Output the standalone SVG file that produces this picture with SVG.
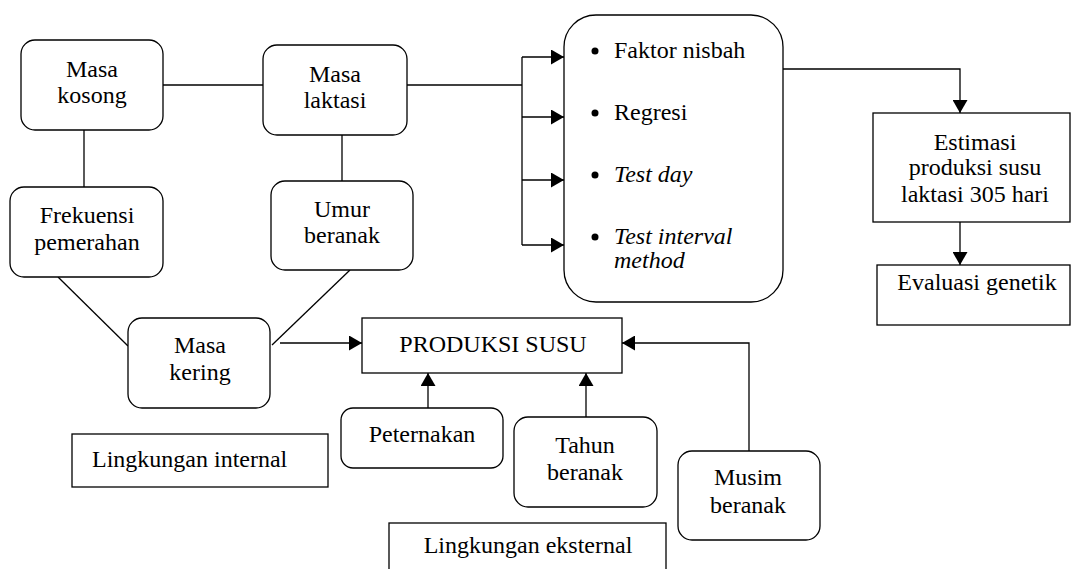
<svg xmlns="http://www.w3.org/2000/svg" width="1072" height="569" viewBox="0 0 1072 569">
<style>
.b{fill:#fff;stroke:#000;stroke-width:1.3}
.t{font-family:"Liberation Serif","Times New Roman",serif;font-size:24px;fill:#000}
.m{text-anchor:middle}
.i{font-style:italic}
.c{fill:none;stroke:#000;stroke-width:1.3}
</style>
<defs>
<marker id="ah" markerUnits="userSpaceOnUse" markerWidth="13" markerHeight="15" refX="13" refY="7.5" orient="auto">
<path d="M0,0 L13,7.5 L0,15 z" fill="#000"/>
</marker>
</defs>
<rect width="1072" height="569" fill="#fff"/>
<g id="connectors">
<path class="c" d="M163,85 H263"/>
<path class="c" d="M84,130 V187"/>
<path class="c" d="M342,135 V181"/>
<path class="c" d="M58,277 L128,346"/>
<path class="c" d="M350,270 L272,345"/>
<path class="c" d="M280,343 H362" marker-end="url(#ah)"/>
<path class="c" d="M407,85 H522"/>
<path class="c" d="M522,57 V245"/>
<path class="c" d="M522,57 H564" marker-end="url(#ah)"/>
<path class="c" d="M522,117 H564" marker-end="url(#ah)"/>
<path class="c" d="M522,180 H564" marker-end="url(#ah)"/>
<path class="c" d="M522,245 H564" marker-end="url(#ah)"/>
<path class="c" d="M783,69 H960 V113" marker-end="url(#ah)"/>
<path class="c" d="M960,222 V265" marker-end="url(#ah)"/>
<path class="c" d="M428,408 V373" marker-end="url(#ah)"/>
<path class="c" d="M586,417 V373" marker-end="url(#ah)"/>
<path class="c" d="M749,451 V343 H622" marker-end="url(#ah)"/>
</g>
<g id="masa-kosong">
<rect class="b" x="21" y="40" width="142" height="90" rx="14"/>
<text class="t m" x="92" y="77">Masa</text>
<text class="t m" x="92" y="103">kosong</text>
</g>
<g id="masa-laktasi">
<rect class="b" x="263" y="45" width="144" height="90" rx="14"/>
<text class="t m" x="335" y="82">Masa</text>
<text class="t m" x="335" y="108">laktasi</text>
</g>
<g id="frekuensi">
<rect class="b" x="10" y="187" width="153" height="90" rx="14"/>
<text class="t m" x="87" y="223">Frekuensi</text>
<text class="t m" x="87" y="250">pemerahan</text>
</g>
<g id="umur-beranak">
<rect class="b" x="271" y="181" width="142" height="89" rx="14"/>
<text class="t m" x="342" y="217">Umur</text>
<text class="t m" x="342" y="243">beranak</text>
</g>
<g id="metode">
<rect class="b" x="564" y="15" width="219" height="287" rx="32"/>
<circle cx="595" cy="51" r="3.5"/>
<text class="t" x="614" y="58">Faktor nisbah</text>
<circle cx="595" cy="113" r="3.5"/>
<text class="t" x="614" y="120">Regresi</text>
<circle cx="595" cy="175" r="3.5"/>
<text class="t i" x="614" y="182">Test day</text>
<circle cx="595" cy="237" r="3.5"/>
<text class="t i" x="614" y="244">Test interval</text>
<text class="t i" x="614" y="268">method</text>
</g>
<g id="estimasi">
<rect class="b" x="873" y="113" width="197" height="109"/>
<text class="t m" x="975" y="150">Estimasi</text>
<text class="t m" x="975" y="175">produksi susu</text>
<text class="t m" x="975" y="202">laktasi 305 hari</text>
</g>
<g id="evaluasi">
<rect class="b" x="877" y="265" width="193" height="60"/>
<text class="t m" x="977" y="290">Evaluasi genetik</text>
</g>
<g id="masa-kering">
<rect class="b" x="128" y="318" width="142" height="90" rx="14"/>
<text class="t m" x="200" y="353">Masa</text>
<text class="t m" x="200" y="380">kering</text>
</g>
<g id="produksi-susu">
<rect class="b" x="362" y="318" width="260" height="55"/>
<text class="t m" x="493" y="352">PRODUKSI SUSU</text>
</g>
<g id="lingkungan-internal">
<rect class="b" x="72" y="434" width="256" height="53"/>
<text class="t" x="92" y="467">Lingkungan internal</text>
</g>
<g id="peternakan">
<rect class="b" x="341" y="408" width="162" height="60" rx="12"/>
<text class="t m" x="422" y="442">Peternakan</text>
</g>
<g id="tahun-beranak">
<rect class="b" x="514" y="417" width="143" height="90" rx="14"/>
<text class="t m" x="585" y="453">Tahun</text>
<text class="t m" x="585" y="480">beranak</text>
</g>
<g id="musim-beranak">
<rect class="b" x="678" y="451" width="142" height="89" rx="14"/>
<text class="t m" x="748" y="485">Musim</text>
<text class="t m" x="748" y="513">beranak</text>
</g>
<g id="lingkungan-eksternal">
<rect class="b" x="389" y="523" width="277" height="60"/>
<text class="t m" x="528" y="553">Lingkungan eksternal</text>
</g>
</svg>
